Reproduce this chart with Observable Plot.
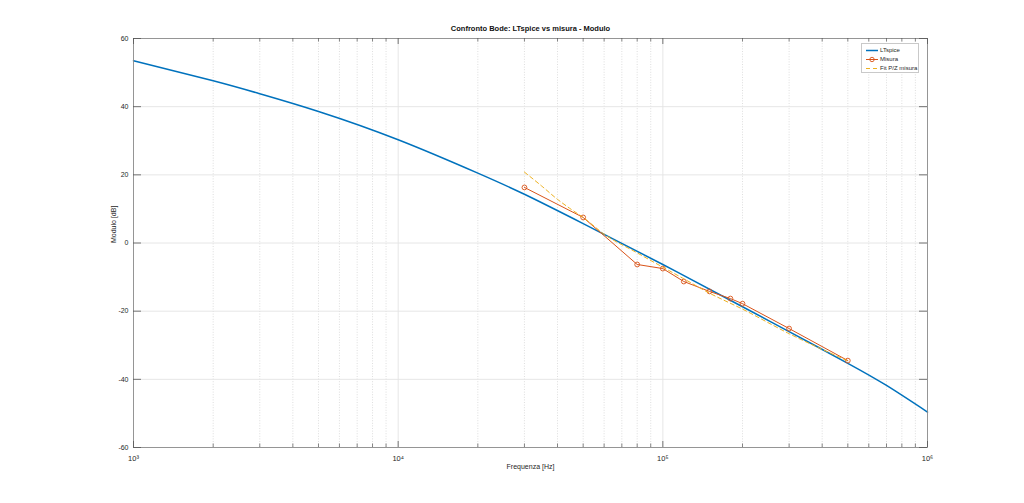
<!DOCTYPE html>
<html><head><meta charset="utf-8">
<script src="https://cdn.jsdelivr.net/npm/d3@7"></script>
<script src="https://cdn.jsdelivr.net/npm/@observablehq/plot@0.6"></script>
<style>
body{margin:0;background:#fff;}
#wrap{position:relative;width:1024px;height:503px;font-family:"Liberation Sans",Arial,sans-serif;}
#legend{position:absolute;left:861px;top:43px;width:58px;height:30px;border:1px solid #c9c9c9;background:#fff;box-sizing:border-box;}
.row{position:absolute;left:0;height:9px;width:100%;font-size:6px;color:#262626;line-height:9px;}
.row svg{position:absolute;left:3px;top:0;}
.row span{position:absolute;left:18px;top:0;white-space:nowrap;}
</style></head>
<body><div id="wrap"><div id="chart"></div><div id="legend"></div></div>
<script>
// ---- data ----
const titleText = "Confronto Bode: LTspice vs misura - Modulo";
const xLabel = "Frequenza [Hz]";
const yLabel = "Modulo [dB]";
const seriesNames = ["LTspice", "Misura", "Fit P/Z misura"];
const seriesColors = ["#0072BD", "#D95319", "#EDB120"];

const ltFreq = [1000,2000,3000,5000,10000,20000,30000,50000,100000,200000,300000,500000,700000,1000000];
const ltDb   = [53.5,47.6,43.8,38.6,30.3,20.5,14.3,5.7,-6.3,-18.7,-26.0,-35.3,-41.8,-49.6];

const misFreq = [30000,50000,80000,100000,120000,150000,180000,200000,300000,500000];
const misDb   = [16.3,7.5,-6.3,-7.5,-11.3,-14.2,-16.3,-17.8,-25.1,-34.5];

const fitFreq = [30000,35000,40000,45000,50000,60000,80000,100000,120000,150000,200000,300000,500000];
const fitDb   = [20.8,16.6,12.8,9.9,7.5,2.6,-2.9,-7.1,-10.5,-14.7,-19.4,-26.6,-34.6];

const xTicks = [1000,10000,100000,1000000];
const xTickLabels = ["10\u00B3","10\u2074","10\u2075","10\u2076"];
const yTicks = [-60,-40,-20,0,20,40,60];

// ---- layout ----
const W = 1024, H = 503, mL = 133, mR = 97, mT = 38, mB = 56;
const pW = W - mL - mR, pH = H - mT - mB;

const lt = ltFreq.map((f,i)=>({f, db: ltDb[i]}));
const mis = misFreq.map((f,i)=>({f, db: misDb[i]}));
const fit = fitFreq.map((f,i)=>({f, db: fitDb[i]}));
const minor = [];
for (const dec of xTicks.slice(0,-1)) for (let k=2;k<=9;k++) minor.push(dec*k);
const innerX = xTicks.slice(1,-1);
const innerY = yTicks.slice(1,-1);
const axisCol = "#8a8a8a";

const chart = Plot.plot({
  width: W, height: H,
  marginLeft: mL, marginRight: mR, marginTop: mT, marginBottom: mB,
  style: {fontFamily: "'Liberation Sans', Arial, sans-serif", fontSize: "7px", color: "#262626", background: "#fff"},
  x: {type: "log", domain: [1000, 1000000], label: null},
  y: {domain: [-60, 60], label: null},
  marks: [
    Plot.ruleX(minor, {stroke: "#d6d6d6", strokeDasharray: "1,1.6", strokeWidth: 0.8}),
    Plot.ruleX(innerX, {stroke: "#e3e3e3", strokeWidth: 0.9}),
    Plot.ruleY(innerY, {stroke: "#e3e3e3", strokeWidth: 0.9}),
    Plot.line(lt, {x: "f", y: "db", stroke: seriesColors[0], strokeWidth: 1.5, curve: "natural"}),
    Plot.line(mis, {x: "f", y: "db", stroke: seriesColors[1], strokeWidth: 1}),
    Plot.dot(mis, {x: "f", y: "db", stroke: seriesColors[1], fill: "none", r: 2.4, strokeWidth: 0.9}),
    Plot.line(fit, {x: "f", y: "db", stroke: seriesColors[2], strokeWidth: 1, strokeDasharray: "4,3", curve: "monotone-x"}),
    Plot.frame({stroke: axisCol, strokeWidth: 0.9}),
    // inward ticks
    Plot.ruleX(minor, {stroke: "#555", strokeWidth: 0.7, insetTop: pH - 3.5}),
    Plot.ruleX(minor, {stroke: "#555", strokeWidth: 0.7, insetBottom: pH - 3.5}),
    Plot.ruleX(xTicks, {stroke: "#555", strokeWidth: 0.8, insetTop: pH - 6}),
    Plot.ruleX(xTicks, {stroke: "#555", strokeWidth: 0.8, insetBottom: pH - 6}),
    Plot.ruleY(yTicks, {stroke: "#555", strokeWidth: 0.8, insetRight: pW - 8}),
    Plot.ruleY(yTicks, {stroke: "#555", strokeWidth: 0.8, insetLeft: pW - 8}),
    Plot.axisX({ticks: xTicks, tickFormat: d => xTickLabels[xTicks.indexOf(d)], tickSize: 0, tickPadding: 8, fontSize: 7.5, fill: "#262626"}),
    Plot.axisY({ticks: yTicks, tickFormat: d => String(d), tickSize: 0, tickPadding: 5, fontSize: 7, fill: "#262626"}),
    Plot.text([titleText], {frameAnchor: "top", dy: -13, fontWeight: "bold", fontSize: 7.5, fill: "#111"}),
    Plot.text([xLabel], {frameAnchor: "bottom", dy: 21, fontSize: 7, fill: "#262626"}),
    Plot.text([yLabel], {frameAnchor: "left", dx: -20, rotate: -90, fontSize: 7, fill: "#262626"})
  ]
});
document.getElementById("chart").appendChild(chart);

// legend
const leg = document.getElementById("legend");
seriesNames.forEach((name, i) => {
  const row = document.createElement("div");
  row.className = "row";
  row.style.top = (1.5 + i * 9.3) + "px";
  let sw = `<svg width="14" height="9">`;
  if (i === 2) sw += `<line x1="1" x2="13" y1="4.5" y2="4.5" stroke="${seriesColors[i]}" stroke-width="1" stroke-dasharray="4,3"/>`;
  else sw += `<line x1="1" x2="13" y1="4.5" y2="4.5" stroke="${seriesColors[i]}" stroke-width="${i===0?1.5:1}"/>`;
  if (i === 1) sw += `<circle cx="7" cy="4.5" r="2.2" fill="none" stroke="${seriesColors[i]}" stroke-width="0.9"/>`;
  sw += `</svg>`;
  row.innerHTML = sw + `<span>${name}</span>`;
  leg.appendChild(row);
});
</script>
</body></html>
